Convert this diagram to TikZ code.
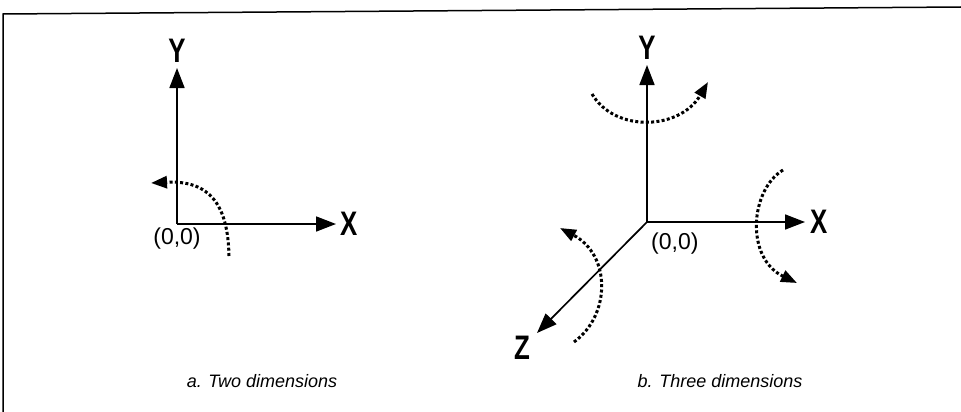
\documentclass[tikz,border=0pt]{standalone}
\usepackage{fontspec}
\setmainfont{Liberation Sans}
\newfontfamily\narrowfont[FakeStretch=0.76]{Liberation Sans Bold}
\usetikzlibrary{positioning,arrows.meta}

\begin{document}
\begin{tikzpicture}[x=1pt,y=-1pt,
axis/.style={line width=1.7pt,-{Triangle[length=20pt,width=15pt]}},
turn/.style={line width=3pt,dash pattern=on 3pt off 2.3pt,-{Triangle[length=16pt,width=12pt]}},
axlabel/.style={inner sep=0pt,font=\narrowfont\fontsize{34}{34}\selectfont},
origin/.style={inner sep=0pt,font=\fontsize{23}{23}\selectfont},
caption/.style={inner sep=0pt,font=\itshape\fontsize{18}{18}\selectfont}]
\useasboundingbox (0,0) rectangle (961,412);
% frame
\draw[line width=1.5pt] (3,412) -- (3,14) -- (961,7);
% a. two dimensions
\coordinate (oa) at (177,224);
\coordinate (ya) at (177,68);
\coordinate (xa) at (336,224);
\node[axlabel,above=5pt of ya] (ylabA) {Y};
\node[axlabel,right=4pt of xa] (xlabA) {X};
\node[origin,below=4pt of oa] (origA) {(0,0)};
\coordinate (arcAs) at (229,256);
\coordinate (arcAe) at (151,183);
\draw[turn] (arcAs) .. controls (228,205) and (210,180) .. (arcAe);
\node[caption] (capA) at (262,381) {a. Two dimensions};
% b. three dimensions
\coordinate (ob) at (647,222);
\coordinate (yb) at (647,65);
\coordinate (xb) at (805,222);
\coordinate (zb) at (537,333);
\node[axlabel,above=5pt of yb] (ylabB) {Y};
\node[axlabel,right=5pt of xb] (xlabB) {X};
\node[axlabel,below left=3pt and 7pt of zb] (zlabB) {Z};
\node[origin,below right=11pt and 4pt of ob] (origB) {(0,0)};
\coordinate (arcYs) at (592,94);
\coordinate (arcYe) at (708,82);
\coordinate (arcXs) at (783,170);
\coordinate (arcXe) at (797,283);
\coordinate (arcZs) at (574,342);
\coordinate (arcZe) at (560,228);
\draw[turn] (arcYs) .. controls (615,133) and (680,130) .. (arcYe);
\draw[turn] (arcXs) .. controls (750,190) and (745,258) .. (arcXe);
\draw[turn] (arcZs) .. controls (611,315) and (611,255) .. (arcZe);
\node[caption] (capB) at (720,381) {b. Three dimensions};
\foreach \a/\b in {oa/ya,oa/xa,ob/yb,ob/xb,ob/zb}{\draw[axis] (\a) -- (\b);}
\end{tikzpicture}
\end{document}
